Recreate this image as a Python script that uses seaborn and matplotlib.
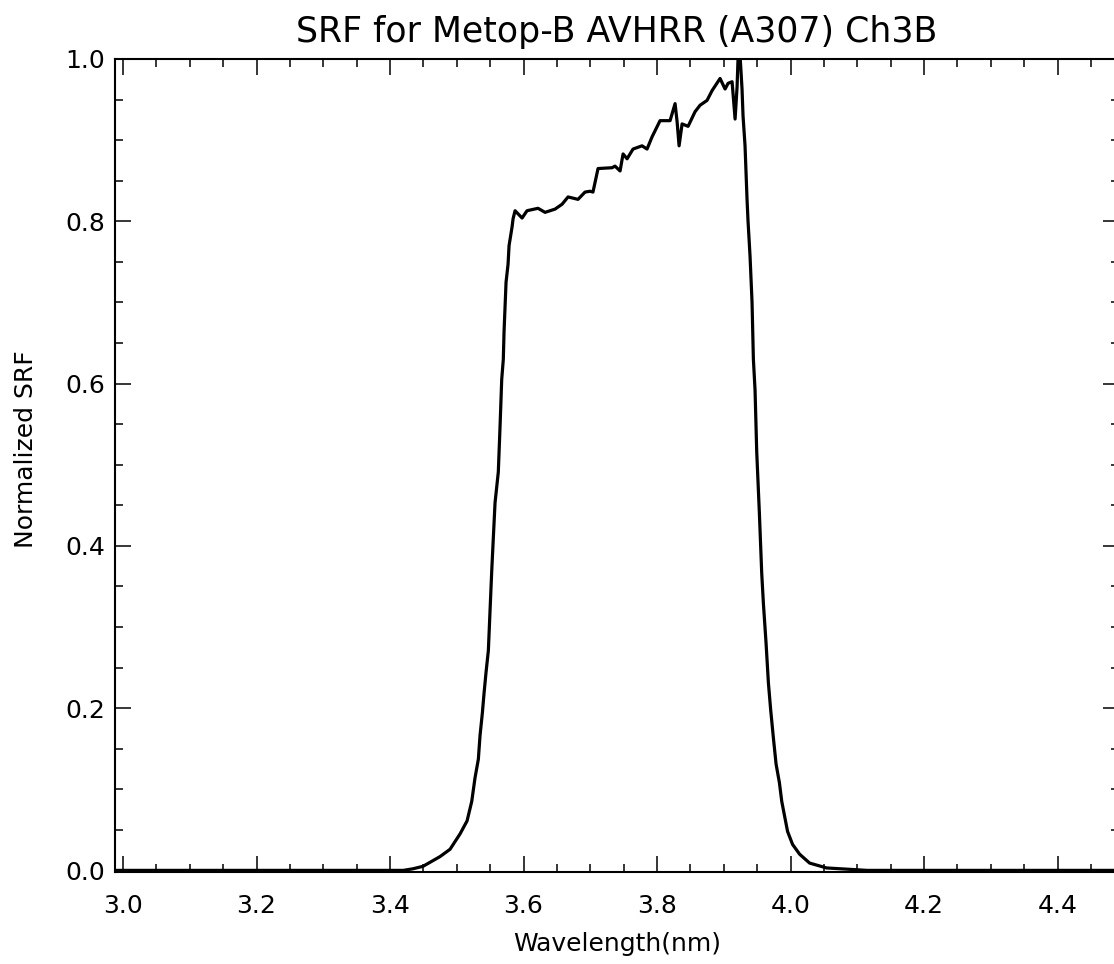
import matplotlib
matplotlib.use("Agg")
import matplotlib.pyplot as plt
from matplotlib.ticker import MultipleLocator
import seaborn as sns
import pandas as pd

# values
wavelength = [2.99, 3.40, 3.42, 3.4345, 3.4494, 3.4749, 3.4899, 3.5049, 3.5154, 3.5224,
              3.5273, 3.5323, 3.5348, 3.5383, 3.5408, 3.5438, 3.5473, 3.5498, 3.5524, 3.5548,
              3.5573, 3.5622, 3.5648, 3.5673, 3.5697, 3.5708, 3.5738, 3.5768, 3.5783, 3.5828,
              3.5843, 3.5873, 3.5978, 3.6052, 3.6217, 3.6322, 3.6472, 3.6577, 3.6667, 3.6816,
              3.6921, 3.6996, 3.7040, 3.7116, 3.7326, 3.7370, 3.7446, 3.7491, 3.7551, 3.7640,
              3.7775, 3.7850, 3.7925, 3.8045, 3.8195, 3.8270, 3.8300, 3.8330, 3.8375, 3.8465,
              3.8569, 3.8644, 3.8749, 3.8824, 3.8944, 3.9019, 3.9064, 3.9124, 3.9169, 3.9199,
              3.9225, 3.9273, 3.9288, 3.9318, 3.9348, 3.9363, 3.9393, 3.9423, 3.9443, 3.9468,
              3.9493, 3.9533, 3.9568, 3.9593, 3.9633, 3.9668, 3.9703, 3.9743, 3.9783, 3.9833,
              3.9868, 3.9955, 4.0030, 4.0135, 4.0285, 4.0539, 4.1146, 4.49]
srf = [0.0, 0.0, 0.0, 0.002, 0.005, 0.017, 0.026, 0.045, 0.061, 0.085,
       0.114, 0.137, 0.166, 0.194, 0.218, 0.244, 0.271, 0.320, 0.370, 0.411,
       0.453, 0.491, 0.547, 0.605, 0.630, 0.664, 0.725, 0.747, 0.770, 0.793,
       0.803, 0.813, 0.804, 0.813, 0.816, 0.811, 0.815, 0.821, 0.830, 0.827,
       0.836, 0.837, 0.836, 0.865, 0.866, 0.868, 0.862, 0.883, 0.877, 0.889,
       0.893, 0.889, 0.904, 0.924, 0.924, 0.945, 0.923, 0.893, 0.920, 0.917,
       0.935, 0.943, 0.949, 0.961, 0.976, 0.963, 0.970, 0.972, 0.926, 0.966,
       1.03, 0.963, 0.930, 0.893, 0.827, 0.800, 0.757, 0.700, 0.630, 0.592,
       0.516, 0.440, 0.366, 0.329, 0.280, 0.231, 0.197, 0.163, 0.131, 0.108,
       0.085, 0.048, 0.032, 0.020, 0.009, 0.003, 0.0, 0.0]

title = "SRF for Metop-B AVHRR (A307) Ch3B"
xlabel = "Wavelength(nm)"
ylabel = "Normalized SRF"

sns.set_style("ticks", {'text.color': 'black', 'axes.labelcolor': 'black',
                        'xtick.color': 'black', 'ytick.color': 'black',
                        'axes.edgecolor': 'black'})
plt.rcParams['font.family'] = ['DejaVu Sans']

df = pd.DataFrame({'wl': wavelength, 'srf': srf})

fig = plt.figure(figsize=(11.14, 9.64), dpi=100)
ax = fig.add_axes([115 / 1114, 92 / 964, 1004 / 1114, 813 / 964])
sns.lineplot(data=df, x='wl', y='srf', color='black', linewidth=2.3,
             estimator=None, sort=False, ax=ax)

ax.set_xlim(2.988, 4.492)
ax.set_ylim(-0.002, 1.0)
ax.xaxis.set_major_locator(MultipleLocator(0.2))
ax.xaxis.set_minor_locator(MultipleLocator(0.05))
ax.yaxis.set_major_locator(MultipleLocator(0.2))
ax.yaxis.set_minor_locator(MultipleLocator(0.05))
ax.tick_params(which='both', direction='in', top=True, right=True, width=1.1)
ax.tick_params(which='major', length=11.5, labelsize=18)
ax.tick_params(which='minor', length=5.5)
ax.tick_params(axis='x', which='major', pad=16)
ax.tick_params(axis='y', which='major', pad=7)
for s in ax.spines.values():
    s.set_linewidth(1.5)

ax.set_title(title, fontsize=25, pad=12)
ax.set_xlabel(xlabel, fontsize=18, labelpad=10)
ax.set_ylabel(ylabel, fontsize=18)
ax.yaxis.set_label_coords(-0.077, 0.52)

fig.savefig("out.png", dpi=100)
